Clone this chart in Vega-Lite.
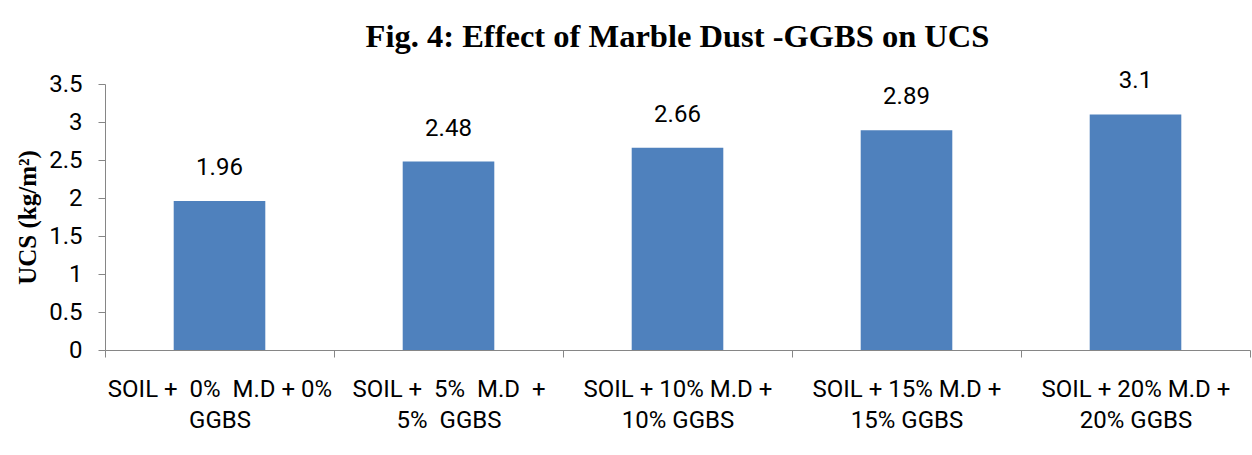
{
  "$schema": "https://vega.github.io/schema/vega-lite/v6.json",
  "width": 1145,
  "height": 266,
  "autosize": {"type": "none"},
  "padding": {"left": 105, "top": 84, "right": 2, "bottom": 105},
  "background": "white",
  "title": {
    "text": "Fig. 4: Effect of Marble Dust -GGBS on UCS",
    "font": "Liberation Serif",
    "fontSize": 32.5,
    "fontWeight": "bold",
    "color": "black",
    "anchor": "middle",
    "offset": 16
  },
  "data": {
    "values": [
      {"mix": "SOIL +\u00a0\u00a00%\u00a0\u00a0M.D + 0%|GGBS", "ucs": 1.96},
      {"mix": "SOIL +\u00a0\u00a05%\u00a0\u00a0M.D\u00a0\u00a0+|5%\u00a0\u00a0GGBS", "ucs": 2.48},
      {"mix": "SOIL + 10% M.D +|10% GGBS", "ucs": 2.66},
      {"mix": "SOIL + 15% M.D +|15% GGBS", "ucs": 2.89},
      {"mix": "SOIL + 20% M.D +|20% GGBS", "ucs": 3.1}
    ]
  },
  "encoding": {
    "x": {
      "field": "mix",
      "type": "nominal",
      "sort": null,
      "scale": {"paddingInner": 0, "paddingOuter": 0},
      "axis": {
        "title": null,
        "labelAngle": 0,
        "labelExpr": "datum.value ? split(datum.value, '|') : ''",
        "labelFont": "Roboto",
        "labelFontSize": 24,
        "labelColor": "black",
        "labelLineHeight": 31,
        "labelPadding": 20,
        "labelLimit": 300,
        "tickBand": "extent",
        "tickSize": 7,
        "tickColor": "#868686",
        "domainColor": "#868686",
        "grid": false
      }
    },
    "y": {
      "field": "ucs",
      "type": "quantitative",
      "scale": {"domain": [0, 3.5]},
      "axis": {
        "title": "UCS (kg/m²)",
        "titleFont": "Liberation Serif",
        "titleFontSize": 25,
        "titleFontWeight": "bold",
        "titleColor": "black",
        "titlePadding": 8,
        "values": [0, 0.5, 1, 1.5, 2, 2.5, 3, 3.5],
        "format": "",
        "labelFont": "Roboto",
        "labelFontSize": 24,
        "labelColor": "black",
        "labelPadding": 16,
        "tickSize": 7,
        "tickColor": "#868686",
        "domainColor": "#868686",
        "grid": false
      }
    }
  },
  "layer": [
    {"mark": {"type": "bar", "color": "#4F81BD", "width": {"band": 0.4}}},
    {
      "mark": {
        "type": "text",
        "font": "Roboto",
        "fontSize": 24,
        "color": "black",
        "baseline": "alphabetic",
        "dy": -26
      },
      "encoding": {"text": {"field": "ucs", "type": "quantitative", "format": ""}}
    }
  ],
  "config": {"view": {"stroke": null}}
}
